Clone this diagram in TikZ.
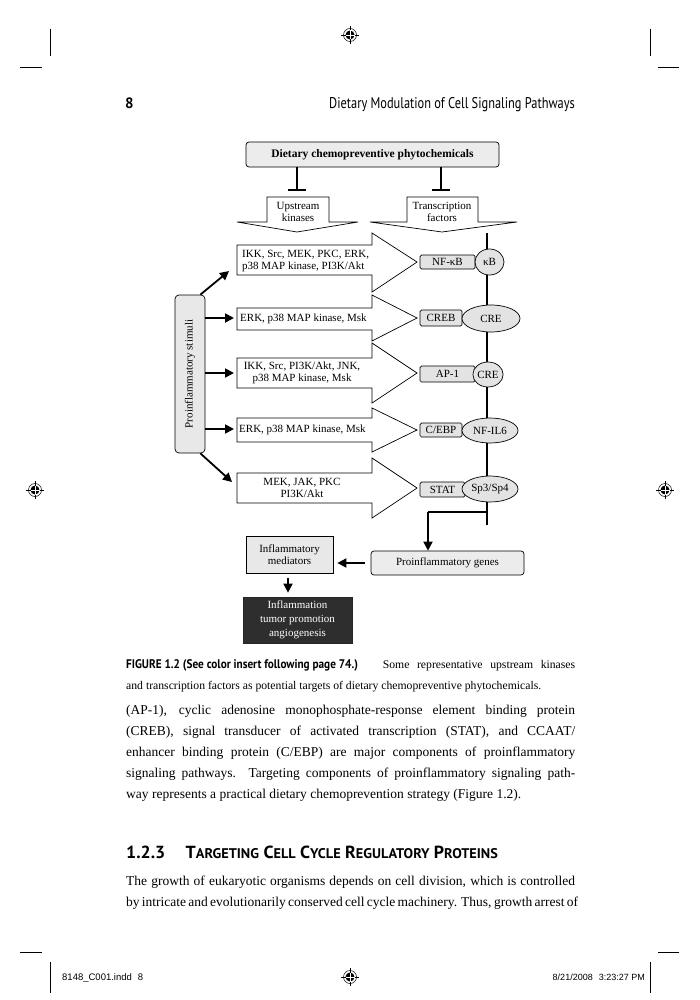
\documentclass[tikz,border=0pt]{standalone}
\usepackage{fontspec}
\usepackage{graphicx}
\setmainfont{Liberation Serif}
\newfontfamily\hdr{PT Sans}
\newfontfamily\ftr{Liberation Sans}
\usetikzlibrary{arrows.meta,shapes.geometric}
\newcommand\scw[2]{#1{\fontsize{14}{16}\selectfont #2}}
\begin{document}
\begin{tikzpicture}[x=1pt,y=-1pt,
  font=\fontsize{11}{12.5}\selectfont,
  box/.style={draw,line width=0.7pt,inner sep=0pt,align=center},
  tfbox/.style={box,rounded corners=1.5pt,fill=gray!22},
  tfell/.style={box,ellipse,fill=gray!22},
  blk/.style={draw,line width=0.7pt,fill=white,line join=miter},
  bigarrow/.style={line width=1.8pt,-{Triangle[length=9pt,width=9pt]}},
  inhib/.style={line width=1.8pt},
  bodyline/.style={anchor=base west,inner sep=0pt,font=\fontsize{13.5}{16}\selectfont},
  capline/.style={anchor=base west,inner sep=0pt,font=\fontsize{11.7}{13}\selectfont},
  crop/.style={line width=0.5pt},
  regmark/.pic={
    \draw[line width=0.5pt] (0,0) circle (6.5);
    \fill (0,0) circle (4.5);
    \draw[white,line width=0.6pt] (-4.5,0)--(4.5,0) (0,-4.5)--(0,4.5);
    \draw[line width=0.5pt] (-9,0)--(-4.5,0) (4.5,0)--(9,0) (0,-9)--(0,-4.5) (0,4.5)--(0,9);
  },
]
\useasboundingbox[fill=white] (0,0) rectangle (700,1000);

% ---------- crop marks and registration marks ----------
\draw[crop] (50,29)--(50,56) (20,67)--(42,67);
\draw[crop] (650,29)--(650,56) (658,67)--(679,67);
\draw[crop] (20,952)--(42,952) (50,962)--(50,993);
\draw[crop] (658,952)--(679,952) (650,962)--(650,993);
\pic at (350,35) {regmark};
\pic at (350,977) {regmark};
\pic at (35,490) {regmark};
\pic at (665,490) {regmark};

% ---------- running head ----------
\node[anchor=base west,inner sep=0pt,font=\hdr\bfseries\fontsize{15}{18}\selectfont] (pno) at (125,109) {8};
\node[anchor=base east,inner sep=0pt,font=\hdr\fontsize{15.5}{18}\selectfont] (rhead) at (575,109) {\scalebox{0.8}[1]{Dietary Modulation of Cell Signaling Pathways}};

% ---------- diagram ----------
\node[box,rounded corners=3pt,fill=gray!15,minimum width=253,minimum height=25,font=\bfseries\fontsize{11.5}{13}\selectfont] (top) at (372.5,154.5) {Dietary chemopreventive phytochemicals};

\coordinate (iL) at (297,190);
\coordinate (iR) at (441,190);
\draw[inhib] (top.south -| iL) -- (iL);
\draw[inhib] ([xshift=-9pt]iL) -- ([xshift=9pt]iL);
\draw[inhib] (top.south -| iR) -- (iR);
\draw[inhib] ([xshift=-9pt]iR) -- ([xshift=9pt]iR);

% down block arrows
\draw[blk] (267,197) -- (329,197) -- (329,222) -- (358,222) -- (297,232) -- (237,222) -- (267,222) -- cycle;
\node[align=center,inner sep=0pt] (upk) at (298,212) {Upstream\\kinases};
\draw[blk] (407,197) -- (478,197) -- (478,222) -- (517,222) -- (442,232) -- (370,222) -- (407,222) -- cycle;
\node[align=center,inner sep=0pt] (trf) at (442,212) {Transcription\\factors};

% right block arrows
\draw[blk] (237,245) -- (372,245) -- (372,233) -- (417,262) -- (372,292) -- (372,275) -- (237,275) -- cycle;
\node[anchor=west,align=left,inner sep=0pt] (k1) at (242,261) {IKK, Src, MEK, PKC, ERK,\\p38 MAP kinase, PI3K/Akt};
\draw[blk] (237,308) -- (372,308) -- (372,295) -- (417,318) -- (372,341) -- (372,330) -- (237,330) -- cycle;
\node[anchor=west,inner sep=0pt] (k2) at (240,319) {ERK, p38 MAP kinase, Msk};
\draw[blk] (237,358) -- (372,358) -- (372,343) -- (417,373) -- (372,403) -- (372,388) -- (237,388) -- cycle;
\node[align=center,inner sep=0pt] (k3) at (302,373) {IKK, Src, PI3K/Akt, JNK,\\p38 MAP kinase, Msk};
\draw[blk] (237,418) -- (372,418) -- (372,408) -- (417,430) -- (372,452) -- (372,442) -- (237,442) -- cycle;
\node[anchor=west,inner sep=0pt] (k4) at (239,430) {ERK, p38 MAP kinase, Msk};
\draw[blk] (237,473) -- (372,473) -- (372,458) -- (417,488) -- (372,518) -- (372,503) -- (237,503) -- cycle;
\node[align=center,inner sep=0pt] (k5) at (302,488) {MEK, JAK, PKC\\PI3K/Akt};

% proinflammatory stimuli
\node[box,rounded corners=4pt,fill=gray!18,minimum width=30,minimum height=158] (stim) at (190,374) {\rotatebox{90}{Proinflammatory stimuli}};
\coordinate (t1) at (229,271);
\coordinate (t2) at (234,318);
\coordinate (t3) at (234,373);
\coordinate (t4) at (234,429);
\coordinate (t5) at (232,482);
\draw[bigarrow] ([xshift=-5pt]stim.north east) -- (t1);
\draw[bigarrow] (stim.east |- t2) -- (t2);
\draw[bigarrow] (stim.east |- t3) -- (t3);
\draw[bigarrow] (stim.east |- t4) -- (t4);
\draw[bigarrow] ([xshift=-5pt]stim.south east) -- (t5);

% transcription factor column
\coordinate (vtop) at (487,233);
\coordinate (vbot) at (487,525);
\coordinate (j) at (487,512);
\coordinate (jb) at (428,512);
\draw[line width=1.6pt] (vtop) -- (vbot);

\node[tfbox,minimum width=55,minimum height=14] (tf1) at (447.5,262) {NF-κB};
\node[tfell,minimum width=29,minimum height=26] (el1) at (489.5,262) {κB};
\node[tfbox,minimum width=42,minimum height=16] (tf2) at (441,318) {CREB};
\node[tfell,minimum width=58,minimum height=27] (el2) at (491,318.5) {CRE};
\node[tfbox,minimum width=55,minimum height=16] (tf3) at (447.5,374) {AP-1};
\node[tfell,minimum width=30,minimum height=25] (el3) at (488,374.5) {CRE};
\node[tfbox,minimum width=42,minimum height=14] (tf4) at (441,430) {C/EBP};
\node[tfell,minimum width=56,minimum height=25] (el4) at (490,430.5) {NF-IL6};
\node[tfbox,minimum width=45,minimum height=15] (tf5) at (442.5,489.5) {STAT};
\node[tfell,minimum width=56,minimum height=26] (el5) at (490,489) {Sp3/Sp4};

% outputs
\node[box,rounded corners=3pt,fill=gray!15,minimum width=153,minimum height=24] (genes) at (447.5,563) {Proinflammatory genes};
\node[box,fill=gray!18,minimum width=87,minimum height=37] (med) at (289.5,554.5) {Inflammatory\\mediators};
\node[box,draw=black!85,fill=black!82,text=white,minimum width=109,minimum height=46,font=\fontsize{11}{14}\selectfont] (outc) at (297.5,620) {Inflammation\\tumor promotion\\angiogenesis};

\draw[line width=1.6pt] (j) -- (jb);
\draw[bigarrow] (jb) -- (jb |- genes.north);
\draw[bigarrow,shorten <=6pt,shorten >=4pt] (genes.west) -- (med.east |- genes.west);
\draw[bigarrow,shorten <=5pt,shorten >=4pt] (med.south -| 288,0) -- (outc.north -| 288,0);

% ---------- caption ----------
\node[capline] (cap1) at (126,668) {\makebox[449pt][s]{{\hdr\bfseries\fontsize{12.5}{14}\selectfont\scalebox{0.9}[1]{FIGURE 1.2 (See color insert following page 74.)}}\hspace{12pt plus 4pt}Some representative upstream kinases}};
\node[capline] (cap2) at (126,689) {and transcription factors as potential targets of dietary chemopreventive phytochemicals.};

% ---------- body ----------
\node[bodyline] (b1) at (126,714) {\makebox[449pt][s]{(AP-1), cyclic adenosine monophosphate-response element binding protein}};
\node[bodyline] (b2) at (126,735) {\makebox[449pt][s]{(CREB), signal transducer of activated transcription (STAT), and CCAAT/}};
\node[bodyline] (b3) at (126,756) {\makebox[449pt][s]{enhancer binding protein (C/EBP) are major components of proinflammatory}};
\node[bodyline] (b4) at (126,777) {\makebox[449pt][s]{signaling pathways. Targeting components of proinflammatory signaling path-}};
\node[bodyline] (b5) at (126,798) {way represents a practical dietary chemoprevention strategy (Figure 1.2).};

\node[anchor=base west,inner sep=0pt,font=\hdr\bfseries\fontsize{17.5}{20}\selectfont] (sec) at (126,858) {\scalebox{1.02}[1]{1.2.3\hspace{20pt}\scw{T}{ARGETING} \scw{C}{ELL} \scw{C}{YCLE} \scw{R}{EGULATORY} \scw{P}{ROTEINS}}};

\node[bodyline] (p1) at (126,885) {\makebox[449pt][s]{The growth of eukaryotic organisms depends on cell division, which is controlled}};
\node[bodyline] (p2) at (126,906) {\makebox[449pt][s]{by intricate and evolutionarily conserved cell cycle machinery. Thus, growth arrest of}};

% ---------- slug ----------
\node[anchor=base west,inner sep=0pt,font=\ftr\fontsize{9.5}{11}\selectfont] (slugL) at (62,980) {8148\_C001.indd\hspace{6pt}8};
\node[anchor=base east,inner sep=0pt,font=\ftr\fontsize{9}{11}\selectfont] (slugR) at (645,980) {8/21/2008\hspace{6pt}3:23:27 PM};
\end{tikzpicture}
\end{document}
